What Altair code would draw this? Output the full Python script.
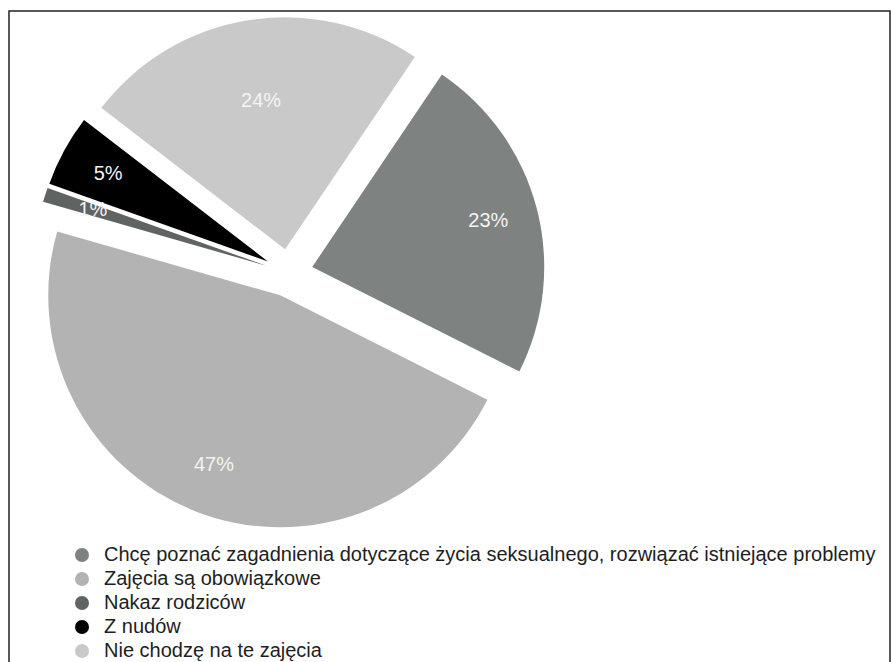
import altair as alt
import pandas as pd

# Survey answers and their shares (percent)
categories = [
    "Chcę poznać zagadnienia dotyczące życia seksualnego, rozwiązać istniejące problemy",
    "Zajęcia są obowiązkowe",
    "Nakaz rodziców",
    "Z nudów",
    "Nie chodzę na te zajęcia",
]
shares = [23, 47, 1, 5, 24]
colors = ["#7e8381", "#b3b3b3", "#5f6462", "#000000", "#c9c9c9"]

# Layout / style settings for the exploded pie
CX, CY = 280, 262          # pie centre inside the framed view
RADIUS = 232
EXPLODE = 24               # how far each slice is pulled out
START = 0.593              # rotation of the first slice (radians)
LABEL_R_DEFAULT = 182
label_radius_style = {"Nie chodzę na te zajęcia": 150}

df = pd.DataFrame({"category": categories, "share": shares})
df["order"] = range(len(df))
df["label_r"] = [label_radius_style.get(c, LABEL_R_DEFAULT) for c in categories]

base = (
    alt.Chart(df)
    .transform_joinaggregate(total="sum(share)")
    .transform_window(cum="sum(share)", sort=[alt.SortField("order")], frame=[None, 0])
    .transform_calculate(t1=f"{START} + 2*PI*datum.cum/datum.total")
    .transform_calculate(t0=f"{START} + 2*PI*(datum.cum - datum.share)/datum.total")
    .transform_calculate(mid="(datum.t0 + datum.t1)/2")
    .transform_calculate(cx=f"{CX} + {EXPLODE}*sin(datum.mid)")
    .transform_calculate(cy=f"{CY} - {EXPLODE}*cos(datum.mid)")
    .transform_calculate(lx="datum.cx + datum.label_r*sin(datum.mid)")
    .transform_calculate(ly="datum.cy - datum.label_r*cos(datum.mid)")
    .transform_calculate(label="datum.share + '%'")
)

slices = base.mark_arc(outerRadius=RADIUS).encode(
    theta=alt.Theta("t0:Q", scale=None, stack=None),
    theta2=alt.Theta2("t1:Q"),
    x=alt.X("cx:Q", scale=None, axis=None),
    y=alt.Y("cy:Q", scale=None, axis=None),
    color=alt.Color(
        "category:N",
        scale=alt.Scale(domain=categories, range=colors),
        legend=alt.Legend(
            title=None,
            orient="none",
            legendX=63,
            legendY=534,
            symbolType="circle",
            symbolSize=196,
            symbolStrokeWidth=0,
            labelFont="Liberation Sans",
            labelFontSize=20,
            labelColor="#1e1e1e",
            labelLimit=900,
            labelOffset=12,
            rowPadding=4,
            padding=0,
        ),
    ),
)

labels = base.mark_text(
    font="Liberation Sans", fontSize=20, color="#f4f4f4", align="center", baseline="middle"
).encode(
    x=alt.X("lx:Q", scale=None, axis=None),
    y=alt.Y("ly:Q", scale=None, axis=None),
    text="label:N",
)

chart = (
    alt.layer(slices, labels)
    .properties(
        width=881,
        height=653,
        padding={"left": 9, "top": 11, "right": 2, "bottom": 0},
        autosize="none",
    )
    .configure_view(stroke="#222222", strokeWidth=1.5)
)

chart.save("out.html", embed_options={"renderer": "svg", "actions": False})
